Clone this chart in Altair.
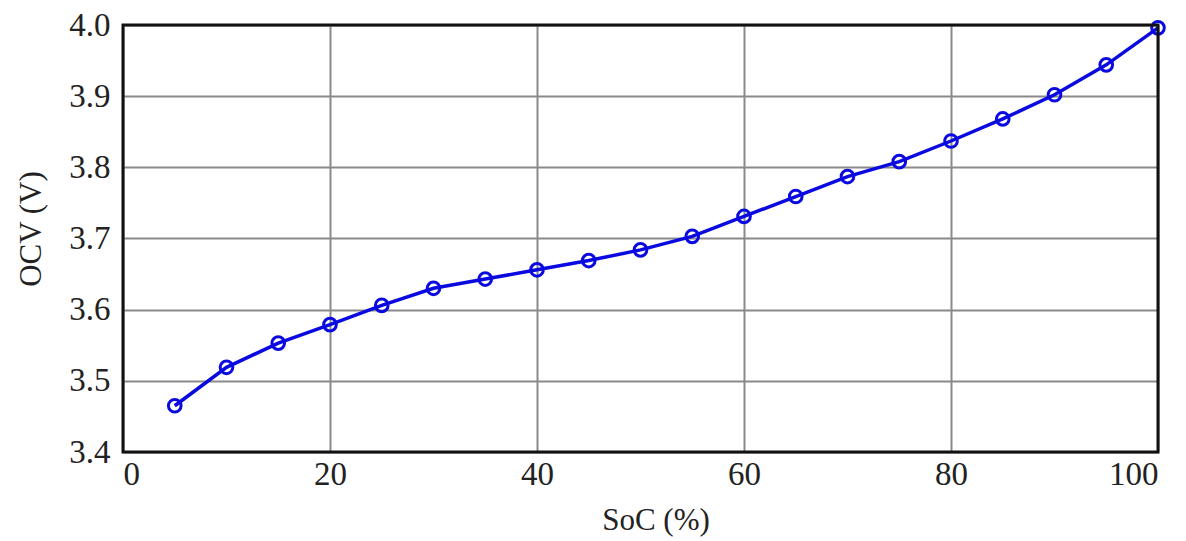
import altair as alt
import pandas as pd

soc = [5, 10, 15, 20, 25, 30, 35, 40, 45, 50, 55, 60, 65, 70, 75, 80, 85, 90, 95, 100]
ocv = [3.465, 3.519, 3.553, 3.579, 3.606, 3.630, 3.643, 3.656, 3.669, 3.684,
       3.703, 3.731, 3.759, 3.787, 3.808, 3.837, 3.868, 3.902, 3.944, 3.996]
x_ticks = [0, 20, 40, 60, 80, 100]
y_ticks = [3.4, 3.5, 3.6, 3.7, 3.8, 3.9, 4.0]

df = pd.DataFrame({"soc": soc, "ocv": ocv})
frame_df = pd.DataFrame({"k": [0]})

FONT = "Liberation Serif"
BLUE = "#0a0ae0"
W, H = 1035, 427

x = alt.X("soc:Q", scale=alt.Scale(domain=[0, 100], nice=False),
          axis=alt.Axis(values=x_ticks, title="SoC (%)", format="d",
                        grid=True, gridColor="#8a8a8a", gridWidth=2,
                        domain=False, ticks=False, labelFont=FONT, labelFontSize=33,
                        labelColor="#222", labelPadding=6, titleFont=FONT,
                        titleFontSize=31, titleFontWeight="normal", titleColor="#222",
                        titleX=W / 2 + 15, titleY=68, titleBaseline="middle",
                        titleAlign="center"))
y = alt.Y("ocv:Q", scale=alt.Scale(domain=[3.4, 4.0], nice=False, zero=False),
          axis=alt.Axis(values=y_ticks, title="OCV (V)", format=".1f",
                        grid=True, gridColor="#8a8a8a", gridWidth=2,
                        domain=False, ticks=False, labelFont=FONT, labelFontSize=33,
                        labelColor="#222", labelPadding=13, titleFont=FONT,
                        titleFontSize=31, titleFontWeight="normal", titleColor="#222",
                        titleX=-92, titleY=H / 2 - 10, titleAngle=270,
                        titleBaseline="middle", titleAlign="center"))

line = alt.Chart(df).mark_line(color=BLUE, strokeWidth=3.5).encode(x=x, y=y)
pts = alt.Chart(df).mark_point(shape="circle", filled=False, color=BLUE,
                               strokeWidth=3, size=160, opacity=1).encode(x=x, y=y)
frame = alt.Chart(frame_df).mark_rect(fill=None, stroke="#111", strokeWidth=3).encode(
    x=alt.value(0), x2=alt.value(W), y=alt.value(0), y2=alt.value(H))

chart = (line + pts + frame).properties(
    width=W, height=H,
    autosize=alt.AutoSizeParams(type="none"),
    padding={"left": 115, "top": 17, "right": 20, "bottom": 100},
).configure_view(stroke=None).configure(background="white")

chart.save("out.html", embed_options={"renderer": "svg", "actions": False})
